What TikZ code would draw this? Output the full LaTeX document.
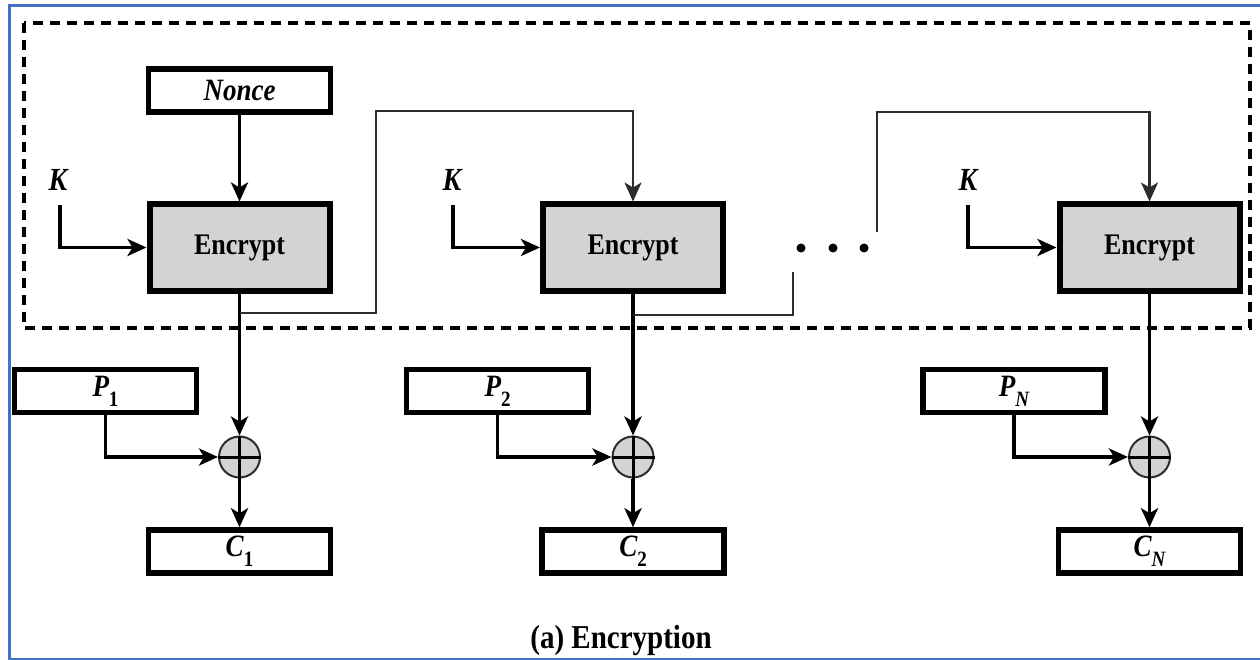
\documentclass[tikz,border=0pt]{standalone}
\usepackage{fontspec}
\setmainfont{LiberationSerif}[Extension=.ttf, UprightFont=*-Regular, BoldFont=*-Bold,
  ItalicFont=*-Italic, BoldItalicFont=*-BoldItalic]
\usetikzlibrary{arrows.meta}
\definecolor{encgray}{RGB}{209,211,212}
\definecolor{frameblue}{RGB}{68,114,196}
\definecolor{fbgray}{RGB}{45,45,45}
\newcommand\lowidx[1]{\raisebox{-0.32em}{\fontsize{19}{19}\selectfont #1}}
\newcommand\tall[1]{\scalebox{1}[1.15]{#1}}

\begin{document}
\begin{tikzpicture}[x=1pt,y=-1pt,
  >={Stealth[length=19pt,width=17pt,inset=5pt]},
  encbox/.style={draw=black, fill=encgray, line width=6pt, minimum width=180pt,
    minimum height=86pt, inner sep=0pt, font=\fontsize{26}{30}\selectfont\bfseries},
  databox/.style={draw=black, fill=white, line width=5.5pt, minimum width=182pt,
    minimum height=43pt, inner sep=0pt, font=\fontsize{27}{30}\selectfont\bfseries\itshape},
  xorc/.style={circle, draw=fbgray, fill=encgray, line width=2pt, minimum size=41pt, inner sep=0pt},
  keylbl/.style={inner sep=0pt, font=\fontsize{28}{30}\selectfont\bfseries\itshape},
  flow/.style={draw=black, line width=3.8pt},
  feedback/.style={draw=fbgray, line width=2.2pt},
  dotn/.style={circle, fill=black, minimum size=9pt, inner sep=0pt},
  dashbox/.style={draw=black, line width=4pt, dash pattern=on 10pt off 7pt},
  framel/.style={draw=frameblue, line width=3pt}
]
\useasboundingbox (0,0) rectangle (1260,660);

% outer frame and the dashed keystream region
\draw[framel] (1265,6) -- (9,6) -- (9,659) -- (1265,659);
\draw[dashbox] (24,23) rectangle (1250,328);

% block cipher stages
\node[databox] (nonce) at (239.5,90.5) {\tall{Nonce}};
\node[encbox] (enc1) at (239.5,247.5) {\tall{Encrypt}};
\node[encbox] (enc2) at (633,247.5) {\tall{Encrypt}};
\node[encbox] (enc3) at (1149.5,247.5) {\tall{Encrypt}};

% key inputs
\node[keylbl] (k1) at (58,180) {\tall{K}};
\node[keylbl] (k2) at (452,180) {\tall{K}};
\node[keylbl] (k3) at (968,180) {\tall{K}};
\coordinate (k1s) at (60,205);
\coordinate (k2s) at (453,205);
\coordinate (k3s) at (968,205);

% plaintext, xor and ciphertext
\node[databox] (p1) at (105.5,391) {\tall{P\lowidx{\upshape 1}}};
\node[databox] (p2) at (497.5,391) {\tall{P\lowidx{\upshape 2}}};
\node[databox] (pn) at (1014,391) {\tall{P\lowidx{N}}};
\node[xorc] (x1) at (239.5,457) {};
\node[xorc] (x2) at (633,457) {};
\node[xorc] (x3) at (1149.5,457) {};
\node[databox] (c1) at (239.5,551.5) {\tall{C\lowidx{\upshape 1}}};
\node[databox] (c2) at (633,551.5) {\tall{C\lowidx{\upshape 2}}};
\node[databox] (cn) at (1149.5,551.5) {\tall{C\lowidx{N}}};

% ellipsis between the stages
\node[dotn] (d1) at (801,248) {};
\node[dotn] (d2) at (833,248) {};
\node[dotn] (d3) at (864,248) {};

% main data flow
\draw[flow,->] (nonce) -- (enc1);
\foreach \k/\e in {k1s/enc1,k2s/enc2,k3s/enc3}
  \draw[flow,->] (\k) |- (\e.west);
\foreach \e/\x/\c/\p in {enc1/x1/c1/p1,enc2/x2/c2/p2,enc3/x3/cn/pn}{
  \draw[flow,->] (\e.south) -- (\x.north);
  \draw[flow,->] (\x.south) -- (\c.north);
  \draw[flow,->] (\p.south) |- (\x.west);
  \draw[line width=3pt] (\x.north) -- (\x.south) (\x.west) -- (\x.east);
}

% counter feedback paths
\coordinate (f1) at (239.5,313);
\draw[feedback,->] (f1) -- (376,313) -- (376,111) -| (enc2.north);
\coordinate (f2) at (633,315);
\coordinate (f2e) at (793,272);
\draw[feedback] (f2) -| (f2e);
\coordinate (f3) at (877,232);
\draw[feedback,->] (f3) -- (877,112) -| (enc3.north);

% caption
\node[anchor=base, inner sep=0pt, font=\fontsize{29}{32}\selectfont\bfseries] (cap) at (621,648) {\tall{(a) Encryption}};
\end{tikzpicture}
\end{document}
